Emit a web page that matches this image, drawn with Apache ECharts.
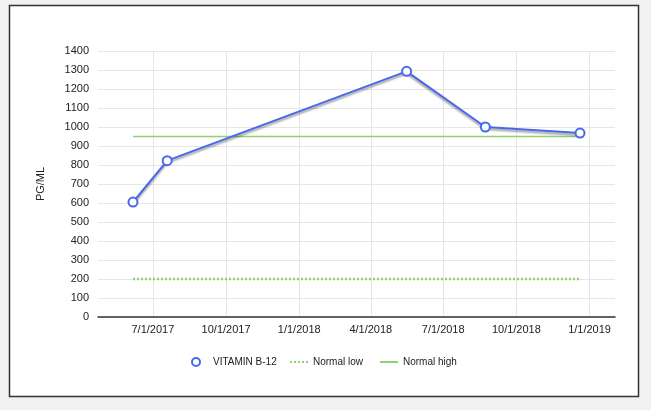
<!DOCTYPE html>
<html>
<head>
<meta charset="utf-8">
<script src="https://cdn.jsdelivr.net/npm/echarts@6/dist/echarts.min.js"></script>
<style>
  html, body { margin: 0; padding: 0; background: #f0f1f3; }
  #main { width: 651px; height: 410px; }
</style>
</head>
<body>
<div id="main"></div>
<script>
// data
var dates = ['2017-06-06', '2017-07-19', '2018-05-16', '2018-08-23', '2018-12-20'];
var b12 = [605, 823, 1293, 1000, 968];
var normalLow = 200;
var normalHigh = 950;
var xTicks = ['2017-07-01', '2017-10-01', '2018-01-01', '2018-04-01', '2018-07-01', '2018-10-01', '2019-01-01'];

function ts(d) { return new Date(d + 'T00:00:00').getTime(); }
function fmt(v) {
    var d = new Date(v);
    return (d.getMonth() + 1) + '/' + d.getDate() + '/' + d.getFullYear();
}

var first = dates[0], last = dates[dates.length - 1];
var font = 'Liberation Sans, Arial, sans-serif';
var blue = '#4768ee';
var green = '#8fd36f';
var legendText = { color: '#222', fontSize: 10, fontFamily: font };

var myChart = echarts.init(document.getElementById('main'));
myChart.setOption({
    animation: false,
    backgroundColor: 'transparent',
    textStyle: { fontFamily: font },
    graphic: {
        elements: [{
            type: 'rect', z: -100, silent: true,
            shape: { x: 9.5, y: 5.5, width: 629, height: 391 },
            style: { fill: '#ffffff', stroke: '#333333', lineWidth: 1.5 }
        }]
    },
    grid: { left: 98, right: 36, top: 51, bottom: 93 },
    legend: [
        {
            left: 191, top: 357, padding: 0,
            itemWidth: 8, itemHeight: 8,
            textStyle: Object.assign({ padding: [0, 0, 0, 8] }, legendText),
            data: [{ name: 'VITAMIN B-12', icon: 'emptyCircle' }]
        },
        {
            left: 290, top: 357, padding: 0,
            itemWidth: 18, itemHeight: 2, itemGap: 17,
            textStyle: legendText,
            data: [
                { name: 'Normal low', icon: 'path://M0,0h2v2h-2zM4,0h2v2h-2zM8,0h2v2h-2zM12,0h2v2h-2zM16,0h2v2h-2z' },
                { name: 'Normal high', icon: 'rect' }
            ]
        }
    ],
    xAxis: {
        type: 'value',
        min: ts('2017-04-23'),
        max: ts('2019-02-02'),
        axisLine: { onZero: false, lineStyle: { color: '#333', width: 1.5 } },
        axisTick: { show: false, customValues: xTicks.map(ts) },
        axisLabel: {
            customValues: xTicks.map(ts),
            formatter: fmt,
            color: '#222', fontSize: 11, margin: 7, fontFamily: font
        },
        splitLine: { show: true, lineStyle: { color: '#e6e6e6', width: 1 } }
    },
    yAxis: {
        type: 'value',
        min: 0, max: 1400, interval: 100,
        name: 'PG/ML',
        nameLocation: 'middle',
        nameGap: 52,
        nameTextStyle: { color: '#222', fontSize: 11, fontFamily: font },
        axisLine: { show: false },
        axisTick: { show: false },
        axisLabel: {
            formatter: function (v) { return String(v); },
            color: '#222', fontSize: 11, margin: 9, fontFamily: font
        },
        splitLine: { lineStyle: { color: '#e6e6e6', width: 1 } }
    },
    series: [
        {
            name: 'Normal low',
            type: 'line',
            symbol: 'none',
            z: 3,
            color: green,
            lineStyle: { color: green, width: 2.5, type: [2, 2] },
            data: [[ts(first), normalLow], [ts(last), normalLow]]
        },
        {
            name: 'Normal high',
            type: 'line',
            symbol: 'none',
            z: 3,
            color: green,
            lineStyle: { color: green, width: 1.5 },
            data: [[ts(first), normalHigh], [ts(last), normalHigh]]
        },
        {
            name: 'VITAMIN B-12',
            type: 'line',
            z: 4,
            color: blue,
            symbol: 'emptyCircle',
            symbolSize: 9,
            itemStyle: { color: blue, borderColor: blue, borderWidth: 2 },
            lineStyle: {
                color: blue, width: 2,
                shadowColor: 'rgba(0,0,0,0.4)', shadowBlur: 2, shadowOffsetY: 2
            },
            data: dates.map(function (d, i) { return [ts(d), b12[i]]; })
        }
    ]
});
</script>
</body>
</html>
